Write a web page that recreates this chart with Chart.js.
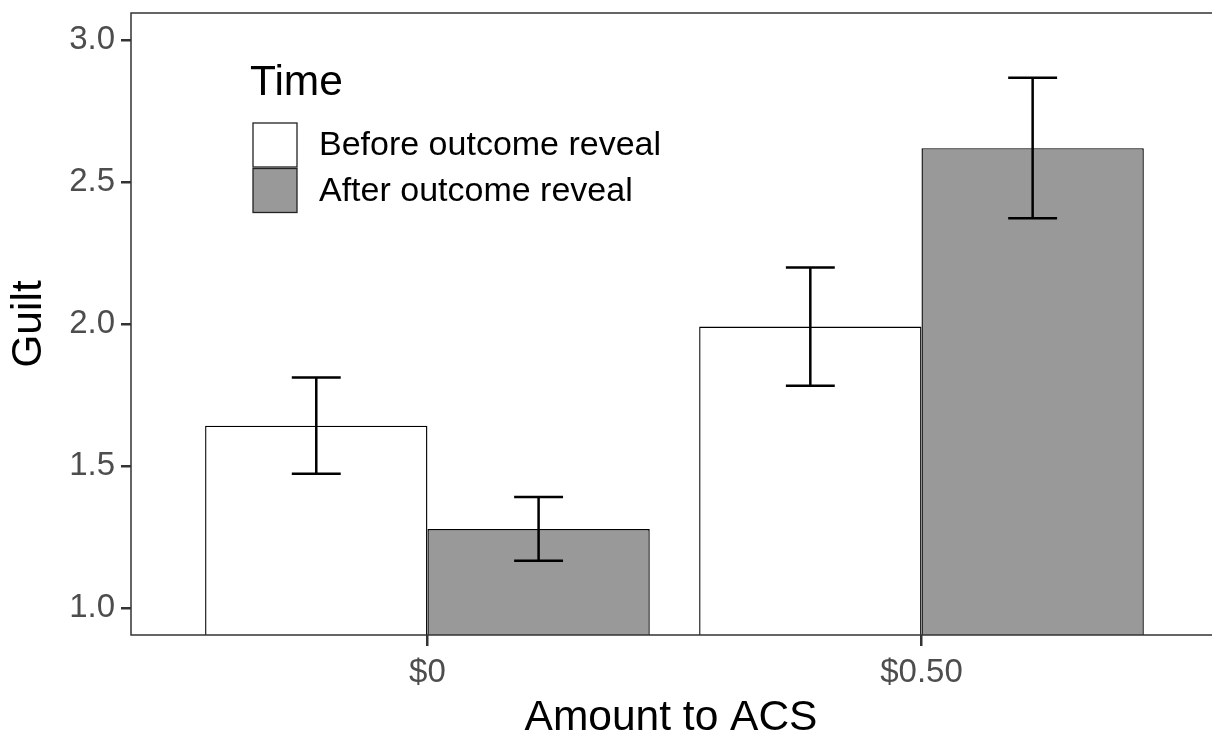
<!DOCTYPE html>
<html>
<head>
<meta charset="utf-8">
<script src="https://cdn.jsdelivr.net/npm/chart.js@4/dist/chart.umd.min.js"></script>
<style>
  html, body { margin: 0; padding: 0; background: #fff; }
  #wrap { width: 1212px; height: 734px; }
</style>
</head>
<body>
<div id="wrap"><canvas id="myChart"></canvas></div>
<script>
// data
const categories = ['$0', '$0.50'];
const seriesNames = ['Before outcome reveal', 'After outcome reveal'];
const beforeMean = [1.642, 1.991];
const afterMean = [1.278, 2.619];
const beforeLow = [1.473, 1.783];
const beforeHigh = [1.812, 2.199];
const afterLow = [1.166, 2.372];
const afterHigh = [1.391, 2.867];
const yTicks = [1.0, 1.5, 2.0, 2.5, 3.0];
const Y_MIN = 0.905, Y_MAX = 3.095;
const X_MIN = -0.6, X_MAX = 1.586; // panel runs slightly past the right edge

const FONT = "'Liberation Sans', Arial, sans-serif";

function pts(vals) {
	return vals.map((v, i) => ({x: i, y: v}));
}

const errorBars = {
	id: 'errorBars',
	afterDatasetsDraw(chart) {
		const ctx = chart.ctx;
		const y = chart.scales.y;
		const lows = [beforeLow, afterLow];
		const highs = [beforeHigh, afterHigh];
		ctx.save();
		ctx.strokeStyle = '#000';
		ctx.lineWidth = 2.5;
		chart.data.datasets.forEach((ds, d) => {
			chart.getDatasetMeta(d).data.forEach((bar, i) => {
				const x = bar.x;
				const half = bar.width * 0.11;
				const yl = y.getPixelForValue(lows[d][i]);
				const yh = y.getPixelForValue(highs[d][i]);
				ctx.beginPath();
				ctx.moveTo(x, yl); ctx.lineTo(x, yh);
				ctx.moveTo(x - half, yl); ctx.lineTo(x + half, yl);
				ctx.moveTo(x - half, yh); ctx.lineTo(x + half, yh);
				ctx.stroke();
			});
		});
		ctx.restore();
	},
	afterDraw(chart) {
		const ctx = chart.ctx;
		const a = chart.chartArea;
		ctx.save();
		// panel border (right side falls outside the picture)
		ctx.strokeStyle = '#333';
		ctx.lineWidth = 1.5;
		ctx.beginPath();
		ctx.moveTo(chart.width, a.top); ctx.lineTo(a.left, a.top);
		ctx.lineTo(a.left, a.bottom); ctx.lineTo(chart.width, a.bottom);
		ctx.stroke();
		// legend inside the panel
		ctx.fillStyle = '#000';
		ctx.font = '42.5px ' + FONT;
		ctx.textBaseline = 'middle';
		ctx.textAlign = 'left';
		ctx.fillText('Time', 250, 83);
		ctx.font = '34px ' + FONT;
		chart.data.datasets.forEach((ds, d) => {
			const top = 123 + d * 45.5;
			ctx.fillStyle = ds.backgroundColor;
			ctx.fillRect(253, top, 44, 44);
			ctx.strokeStyle = '#222';
			ctx.lineWidth = 1.3;
			ctx.strokeRect(253, top, 44, 44);
			ctx.fillStyle = '#000';
			ctx.fillText(ds.label, 319, top + 23);
		});
		ctx.restore();
	}
};

new Chart(document.getElementById('myChart').getContext('2d'), {
	type: 'bar',
	data: {
		datasets: [{
			label: seriesNames[0],
			data: pts(beforeMean),
			backgroundColor: '#ffffff',
			borderColor: '#000',
			borderWidth: 1.4,
			borderSkipped: 'start',
			base: Y_MIN
		}, {
			label: seriesNames[1],
			data: pts(afterMean),
			backgroundColor: '#999999',
			borderColor: '#000',
			borderWidth: 1.4,
			borderSkipped: 'start',
			base: Y_MIN
		}]
	},
	options: {
		responsive: true,
		maintainAspectRatio: false,
		animation: false,
		categoryPercentage: 0.9,
		barPercentage: 1.0,
		layout: {padding: {top: 13, right: 1, left: 0, bottom: 0}},
		plugins: {legend: {display: false}, tooltip: {enabled: false}},
		scales: {
			x: {
				type: 'linear',
				min: X_MIN,
				max: X_MAX,
				offset: false,
				afterBuildTicks: s => { s.ticks = categories.map((c, i) => ({value: i})); },
				afterFit: s => { s.height = 99; s.paddingLeft = 0; s.paddingRight = 0; },
				grid: {display: true, offset: false, drawOnChartArea: false, tickLength: 11, color: '#333', lineWidth: 2.5},
				border: {display: false},
				ticks: {
					color: '#4d4d4d',
					font: {family: FONT, size: 33},
					padding: 7,
					maxRotation: 0,
					callback: v => categories[v]
				},
				title: {
					display: true,
					text: 'Amount to ACS',
					color: '#000',
					font: {family: FONT, size: 42.5, lineHeight: 0.75},
					padding: 0
				}
			},
			y: {
				min: Y_MIN,
				max: Y_MAX,
				afterBuildTicks: s => { s.ticks = yTicks.map(v => ({value: v})); },
				afterFit: s => { s.width = 131; s.paddingTop = 0; s.paddingBottom = 0; },
				grid: {display: true, drawOnChartArea: false, tickLength: 10, color: '#333', lineWidth: 2.5},
				border: {display: false},
				ticks: {
					color: '#4d4d4d',
					font: {family: FONT, size: 33},
					padding: 6,
					callback: v => v.toFixed(1)
				},
				title: {
					display: true,
					text: 'Guilt',
					color: '#000',
					font: {family: FONT, size: 42.5, lineHeight: 1.0},
					padding: {top: 8, bottom: 0}
				}
			}
		}
	},
	plugins: [errorBars]
});
</script>
</body>
</html>
